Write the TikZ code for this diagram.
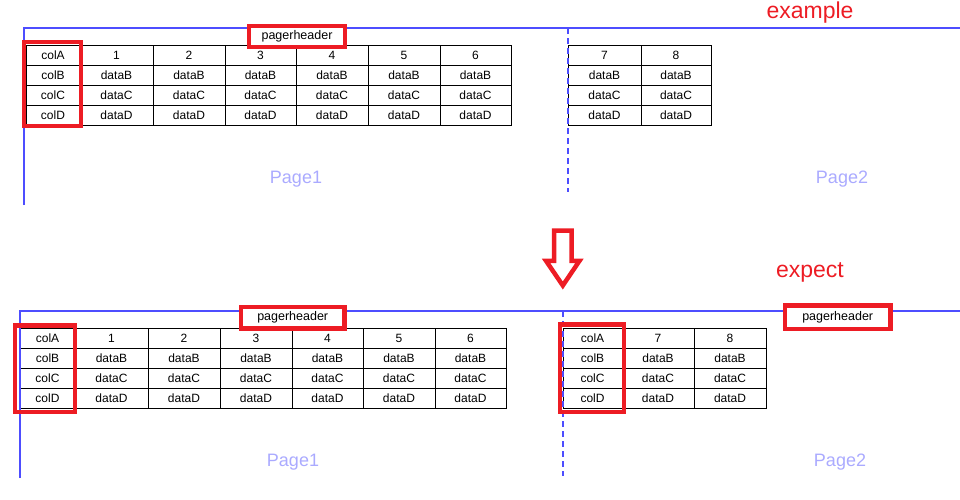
\documentclass[tikz,border=0pt]{standalone}
\usepackage{fontspec}
\setmainfont{Liberation Sans}
\usepackage{xcolor}
\definecolor{markred}{RGB}{237,28,36}
\definecolor{pageblue}{RGB}{77,77,255}
\definecolor{pagelabel}{RGB}{170,170,255}

\tikzset{
  cell/.style={draw=black,line width=1pt,inner sep=0pt,minimum height=20pt,
    font=\fontsize{12}{14}\selectfont},
  redbox/.style={draw=markred,line width=4.5pt,line join=miter},
  hdrbox/.style={redbox,fill=white,inner sep=0pt,font=\fontsize{12.5}{14}\selectfont},
  pageline/.style={draw=pageblue,line width=2pt},
  pagebreak/.style={pageline,dash pattern=on 6pt off 4pt},
  pagename/.style={text=pagelabel,anchor=base,font=\fontsize{18}{20}\selectfont},
  caption/.style={text=markred,anchor=base,font=\fontsize{23}{26}\selectfont}
}

% one printed table: name, top edge, columns as left/right/head/kind
\newcommand{\pagetable}[3]{%
  \foreach \xa/\xb/\hd/\kind [count=\c] in {#3}{
    \node[cell,minimum width={(\xb-\xa)*1pt}] (#1-0-\c) at ({(\xa+\xb)/2},{#2+10}) {\hd};
    \foreach \rw [count=\r] in {B,C,D}
      \node[cell,minimum width={(\xb-\xa)*1pt}] (#1-\r-\c)
        at ({(\xa+\xb)/2},{#2+10+20*\r}) {\kind\rw};
  }%
}

\begin{document}
\begin{tikzpicture}[x=1pt,y=-1pt]
  \useasboundingbox (0,0) rectangle (960,499);
  % Example: tables as printed
  \pagetable{exA}{45.5}{26/80/colA/col,80/153/1/data,153/225/2/data,225/296/3/data,296/368/4/data,368/440/5/data,440/511/6/data}
  \pagetable{exB}{45.5}{568/641/7/data,641/711/8/data}
  % Example: page frame and page break
  \draw[pageline] (23.8,205) -- (23.8,28) -- (960,28);
  \draw[pagebreak] (568,28) -- (568,192);
  % Example: marked header and key column
  \draw[redbox] (24.2,42.2) rectangle (81.1,126.1);
  \node[hdrbox,minimum width=96pt,minimum height=21pt] (hdrA) at (297,36.3) {pagerheader};
  \node[caption] (example) at (810,18.3) {example};
  \node[pagename] (pageA1) at (296,183.3) {Page1};
  \node[pagename] (pageA2) at (842,183.3) {Page2};

  % Arrow down
  \draw[redbox] (554,230.5) -- (571.7,230.5) -- (571.7,260.8) -- (579.5,260.8)
    -- (562.8,285.5) -- (546,260.8) -- (554,260.8) -- cycle;

  % Expect: tables as they should print
  \pagetable{epA}{328.5}{20/75/colA/col,75/148/1/data,148/220/2/data,220/292/3/data,292/363/4/data,363/435/5/data,435/506/6/data}
  \pagetable{epB}{328.5}{563/622/colA/col,622/694/7/data,694/766/8/data}
  % Expect: page frame and page break
  \draw[pageline] (19.5,478) -- (19.5,311) -- (960,311);
  \draw[pagebreak] (563,311) -- (563,476);
  % Expect: marked headers and key columns
  \draw[redbox] (14.9,325.5) rectangle (75.1,411.8);
  \draw[redbox] (559.9,324.5) rectangle (623.8,412.1);
  \node[hdrbox,minimum width=103.5pt,minimum height=21.5pt] (hdrB1) at (292.7,317.7) {pagerheader};
  \node[hdrbox,minimum width=105.5pt,minimum height=23.5pt] (hdrB2) at (837.7,317.3) {pagerheader};
  \node[caption] (expect) at (810,277.3) {expect};
  \node[pagename] (pageB1) at (293,466.5) {Page1};
  \node[pagename] (pageB2) at (840,466.5) {Page2};
\end{tikzpicture}
\end{document}
